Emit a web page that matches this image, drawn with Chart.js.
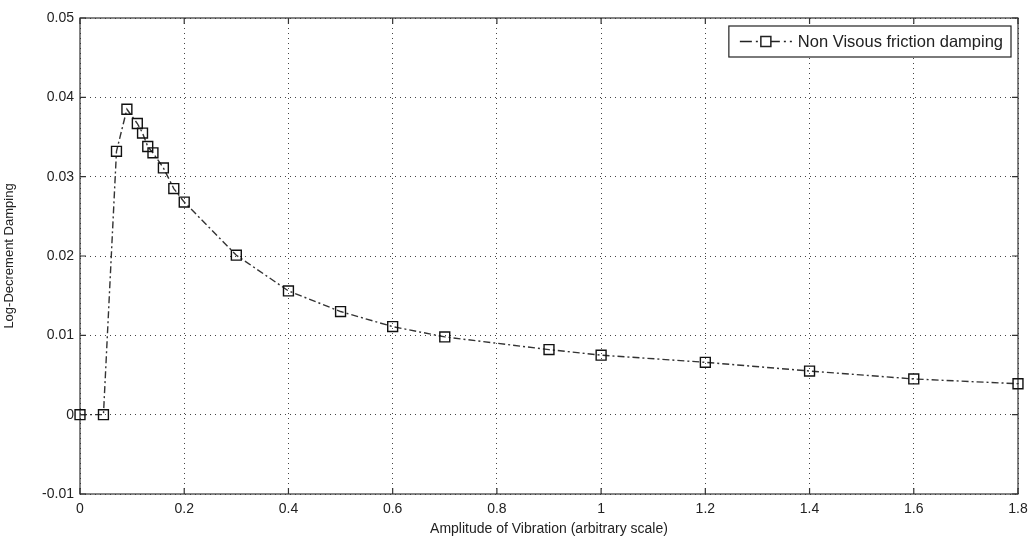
<!DOCTYPE html>
<html>
<head>
<meta charset="utf-8">
<title>Log-Decrement Damping</title>
<script src="https://cdn.jsdelivr.net/npm/chart.js@4.4.1/dist/chart.umd.min.js"></script>
<style>
  html, body { margin: 0; padding: 0; background: #fff; overflow: hidden; }
  canvas { display: block; }
</style>
</head>
<body>
<canvas id="dampChart" width="1029" height="542"></canvas>
<script>
// ================== Data ==================
const amplitude = [0, 0.045, 0.07, 0.09, 0.11, 0.12, 0.13, 0.14, 0.16, 0.18, 0.2,
  0.3, 0.4, 0.5, 0.6, 0.7, 0.9, 1.0, 1.2, 1.4, 1.6, 1.8];
const damping = [0, 0, 0.0332, 0.0385, 0.0367, 0.0355, 0.0338, 0.033, 0.0311, 0.0285, 0.0268,
  0.0201, 0.0156, 0.013, 0.0111, 0.0098, 0.0082, 0.0075, 0.0066, 0.0055, 0.0045, 0.0039];
const seriesLabel = "Non Visous friction damping";

const xTicks = [0, 0.2, 0.4, 0.6, 0.8, 1, 1.2, 1.4, 1.6, 1.8];
const xTickLabels = ["0", "0.2", "0.4", "0.6", "0.8", "1", "1.2", "1.4", "1.6", "1.8"];
const yTicks = [-0.01, 0, 0.01, 0.02, 0.03, 0.04, 0.05];
const yTickLabels = ["-0.01", "0", "0.01", "0.02", "0.03", "0.04", "0.05"];

// ================== Helpers ==================
const FONT = "'Liberation Sans', Arial, sans-serif";
const DASH = [7, 3, 2, 3];

const points = amplitude.map((x, i) => ({ x: x, y: damping[i] }));

// frame + inward ticks, matlab style
const framePlugin = {
  id: "frame",
  beforeDatasetsDraw(chart) {
    const { ctx, chartArea: a, scales } = chart;
    ctx.save();
    ctx.strokeStyle = "#333";
    ctx.lineWidth = 1.2;
    ctx.strokeRect(a.left, a.top, a.right - a.left, a.bottom - a.top);
    ctx.beginPath();
    xTicks.forEach((v) => {
      const px = scales.x.getPixelForValue(v);
      ctx.moveTo(px, a.bottom); ctx.lineTo(px, a.bottom - 6);
      ctx.moveTo(px, a.top); ctx.lineTo(px, a.top + 6);
    });
    yTicks.forEach((v) => {
      const py = scales.y.getPixelForValue(v);
      ctx.moveTo(a.left, py); ctx.lineTo(a.left + 6, py);
      ctx.moveTo(a.right, py); ctx.lineTo(a.right - 6, py);
    });
    ctx.stroke();
    ctx.restore();
  },
};

// legend box in the top right corner
const legendPlugin = {
  id: "boxLegend",
  afterDraw(chart) {
    const { ctx, chartArea: a } = chart;
    const ds = chart.data.datasets[0];
    const right = a.right - 7, top = a.top + 8, h = 31;
    ctx.save();
    ctx.font = "16.5px " + FONT;
    const tw = ctx.measureText(ds.label).width;
    const w = tw + 77;
    const left = right - w;
    ctx.fillStyle = "#fff";
    ctx.fillRect(left, top, w, h);
    ctx.strokeStyle = "#222";
    ctx.lineWidth = 1.2;
    ctx.strokeRect(left, top, w, h);
    const my = top + h / 2;
    ctx.strokeStyle = "#222";
    ctx.lineWidth = 1.5;
    ctx.setLineDash([12, 4, 2, 4, 2, 4]);
    ctx.beginPath();
    ctx.moveTo(left + 11, my);
    ctx.lineTo(left + 64, my);
    ctx.stroke();
    ctx.setLineDash([]);
    ctx.fillStyle = "#fff";
    ctx.fillRect(left + 32, my - 5, 10, 10);
    ctx.strokeRect(left + 32, my - 5, 10, 10);
    ctx.fillStyle = "#222";
    ctx.textBaseline = "middle";
    ctx.fillText(ds.label, left + 69, my + 1);
    ctx.restore();
  },
};

// ================== Chart ==================
const ctx = document.getElementById("dampChart").getContext("2d");
const dampChart = new Chart(ctx, {
  type: "scatter",
  data: {
    datasets: [
      {
        label: seriesLabel,
        data: points,
        showLine: true,
        borderColor: "#333",
        borderWidth: 1.4,
        borderDash: DASH,
        pointStyle: "rect",
        pointRadius: 7,
        pointBorderWidth: 1.4,
        pointBorderColor: "#111",
        pointBackgroundColor: "rgba(255,255,255,0)",
        clip: false,
      },
    ],
  },
  options: {
    responsive: false,
    animation: false,
    devicePixelRatio: 1,
    layout: { padding: { top: 18, right: 11, left: 0, bottom: 0 } },
    plugins: { legend: { display: false }, tooltip: { enabled: false } },
    scales: {
      x: {
        type: "linear",
        min: 0,
        max: 1.8,
        afterBuildTicks: (s) => { s.ticks = xTicks.map((v) => ({ value: v })); },
        afterFit: (s) => {
          s.height = 48;
          s.paddingLeft = 0;
          s.paddingRight = 0;
        },
        ticks: {
          autoSkip: false,
          maxRotation: 0,
          padding: 7,
          color: "#222",
          font: { family: FONT, size: 14 },
          callback: (v) => xTickLabels[xTicks.indexOf(v)] ?? "",
        },
        grid: { color: "#444", lineWidth: 1, drawTicks: false },
        border: { display: false, dash: [1, 4] },
        title: {
          display: true,
          text: "Amplitude of Vibration (arbitrary scale)",
          color: "#222",
          font: { family: FONT, size: 14 },
          padding: { top: 0 },
        },
      },
      y: {
        type: "linear",
        min: -0.01,
        max: 0.05,
        afterBuildTicks: (s) => { s.ticks = yTicks.map((v) => ({ value: v })); },
        afterFit: (s) => { s.width = 80; },
        ticks: {
          autoSkip: false,
          padding: 6,
          color: "#222",
          font: { family: FONT, size: 14 },
          callback: (v) => yTickLabels[yTicks.indexOf(v)] ?? "",
        },
        grid: { color: "#444", lineWidth: 1, drawTicks: false },
        border: { display: false, dash: [1, 4] },
        title: {
          display: true,
          text: "Log-Decrement Damping",
          color: "#222",
          font: { family: FONT, size: 13 },
          padding: { bottom: 0, top: 2 },
        },
      },
    },
  },
  plugins: [framePlugin, legendPlugin],
});
</script>
</body>
</html>
